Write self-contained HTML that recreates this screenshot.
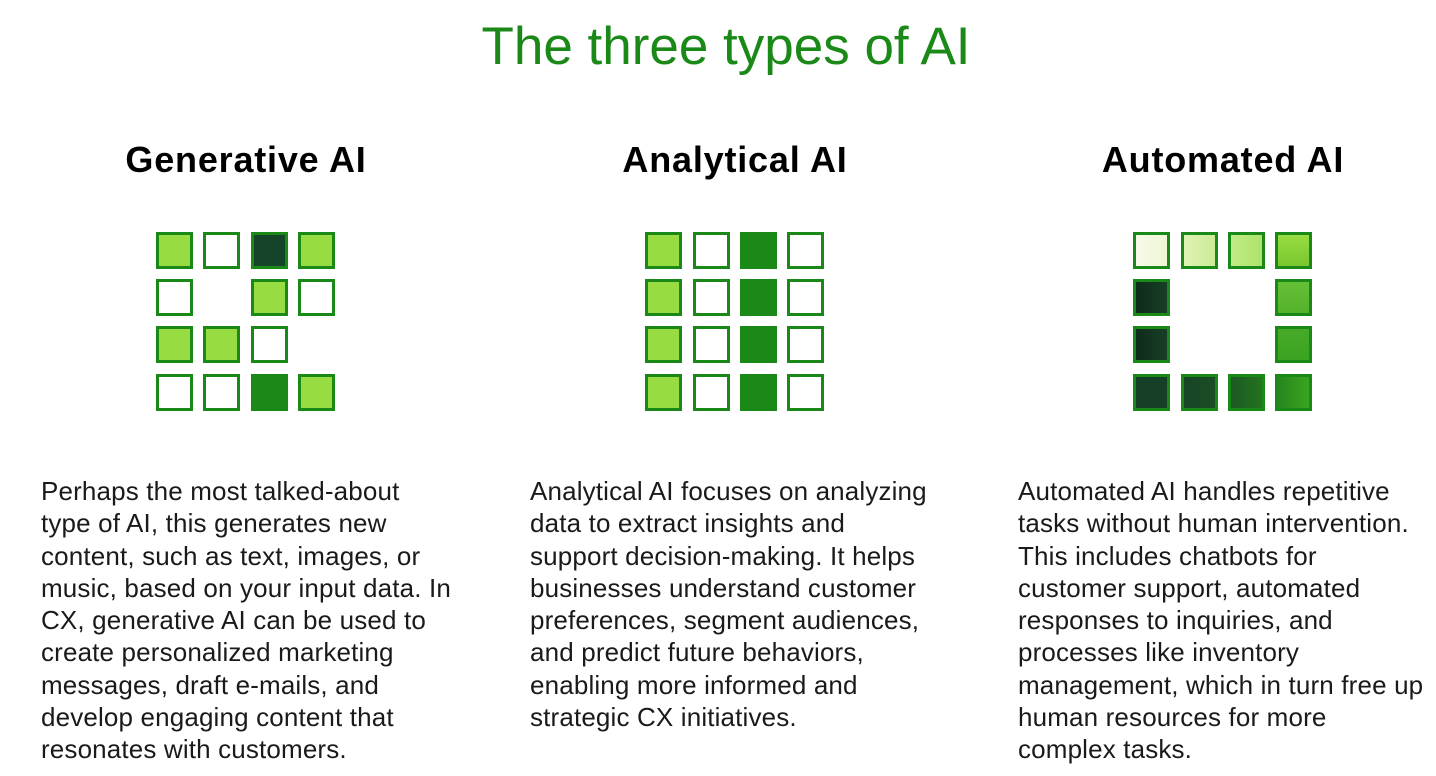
<!DOCTYPE html>
<html>
<head>
<meta charset="utf-8">
<style>
  html, body { margin: 0; padding: 0; background: #ffffff; }
  body { width: 1436px; height: 776px; position: relative; overflow: hidden; font-family: "Liberation Sans", sans-serif; }
  .title { position: absolute; left: 0; width: 1452px; top: 20px; text-align: center; font-size: 53px; line-height: 53px; color: #1a8917; white-space: nowrap; }
  .h { position: absolute; top: 142px; width: 490px; text-align: center; font-size: 36px; line-height: 36px; font-weight: bold; color: #000; letter-spacing: 0.8px; white-space: nowrap; }
  .sq { position: absolute; width: 31px; height: 31px; border: 3px solid #1a8917; background: #fff; }
  .l { background: #97dd41; }
  .d { background: #15442a; }
  .g { background: #1a8917; }
  .txt { position: absolute; top: 475px; font-size: 26px; line-height: 32.25px; color: #1a1a1a; white-space: nowrap; letter-spacing: 0.15px; }
</style>
</head>
<body>
<div class="title">The three types of AI</div>

<div class="h" style="left:1px;">Generative AI</div>
<div class="h" style="left:490px;">Analytical AI</div>
<div class="h" style="left:978px;">Automated AI</div>

<!-- Generative grid -->
<div class="sq l" style="left:156px;top:232px;"></div>
<div class="sq"   style="left:203px;top:232px;"></div>
<div class="sq d" style="left:251px;top:232px;"></div>
<div class="sq l" style="left:298px;top:232px;"></div>

<div class="sq"   style="left:156px;top:279px;"></div>
<div class="sq l" style="left:251px;top:279px;"></div>
<div class="sq"   style="left:298px;top:279px;"></div>

<div class="sq l" style="left:156px;top:326px;"></div>
<div class="sq l" style="left:203px;top:326px;"></div>
<div class="sq"   style="left:251px;top:326px;"></div>

<div class="sq"   style="left:156px;top:374px;"></div>
<div class="sq"   style="left:203px;top:374px;"></div>
<div class="sq g" style="left:251px;top:374px;"></div>
<div class="sq l" style="left:298px;top:374px;"></div>

<!-- Analytical grid -->
<div class="sq l" style="left:645px;top:232px;"></div>
<div class="sq"   style="left:693px;top:232px;"></div>
<div class="sq g" style="left:740px;top:232px;"></div>
<div class="sq"   style="left:787px;top:232px;"></div>

<div class="sq l" style="left:645px;top:279px;"></div>
<div class="sq"   style="left:693px;top:279px;"></div>
<div class="sq g" style="left:740px;top:279px;"></div>
<div class="sq"   style="left:787px;top:279px;"></div>

<div class="sq l" style="left:645px;top:326px;"></div>
<div class="sq"   style="left:693px;top:326px;"></div>
<div class="sq g" style="left:740px;top:326px;"></div>
<div class="sq"   style="left:787px;top:326px;"></div>

<div class="sq l" style="left:645px;top:374px;"></div>
<div class="sq"   style="left:693px;top:374px;"></div>
<div class="sq g" style="left:740px;top:374px;"></div>
<div class="sq"   style="left:787px;top:374px;"></div>

<!-- Automated grid -->
<div class="sq" style="left:1133px;top:232px;background:linear-gradient(to right,#f7fbe8,#eef6d6);"></div>
<div class="sq" style="left:1181px;top:232px;background:linear-gradient(to right,#def3b4,#cbeb96);"></div>
<div class="sq" style="left:1228px;top:232px;background:linear-gradient(to right,#c2ea86,#ade46a);"></div>
<div class="sq" style="left:1275px;top:232px;background:linear-gradient(to bottom,#97dd41,#7ac630);"></div>

<div class="sq" style="left:1133px;top:279px;background:linear-gradient(to right,#0f2b1a,#173f25);"></div>
<div class="sq" style="left:1275px;top:279px;background:linear-gradient(to bottom,#66c036,#55b22c);"></div>

<div class="sq" style="left:1133px;top:326px;background:linear-gradient(to right,#0f2b1a,#173f25);"></div>
<div class="sq" style="left:1275px;top:326px;background:linear-gradient(to bottom,#47ab28,#3aa321);"></div>

<div class="sq" style="left:1133px;top:374px;background:#163f25;"></div>
<div class="sq" style="left:1181px;top:374px;background:linear-gradient(to right,#174526,#1b4c24);"></div>
<div class="sq" style="left:1228px;top:374px;background:linear-gradient(to right,#1d5823,#24731f);"></div>
<div class="sq" style="left:1275px;top:374px;background:linear-gradient(to right,#27861f,#3aa41e);"></div>

<!-- Text -->
<div class="txt" style="left:41px;">Perhaps the most talked-about<br>type of AI, this generates new<br>content, such as text, images, or<br>music, based on your input data. In<br>CX, generative AI can be used to<br>create personalized marketing<br>messages, draft e-mails, and<br>develop engaging content that<br>resonates with customers.</div>

<div class="txt" style="left:530px;">Analytical AI focuses on analyzing<br>data to extract insights and<br>support decision-making. It helps<br>businesses understand customer<br>preferences, segment audiences,<br>and predict future behaviors,<br>enabling more informed and<br>strategic CX initiatives.</div>

<div class="txt" style="left:1018px;">Automated AI handles repetitive<br>tasks without human intervention.<br>This includes chatbots for<br>customer support, automated<br>responses to inquiries, and<br>processes like inventory<br>management, which in turn free up<br>human resources for more<br>complex tasks.</div>
</body>
</html>
